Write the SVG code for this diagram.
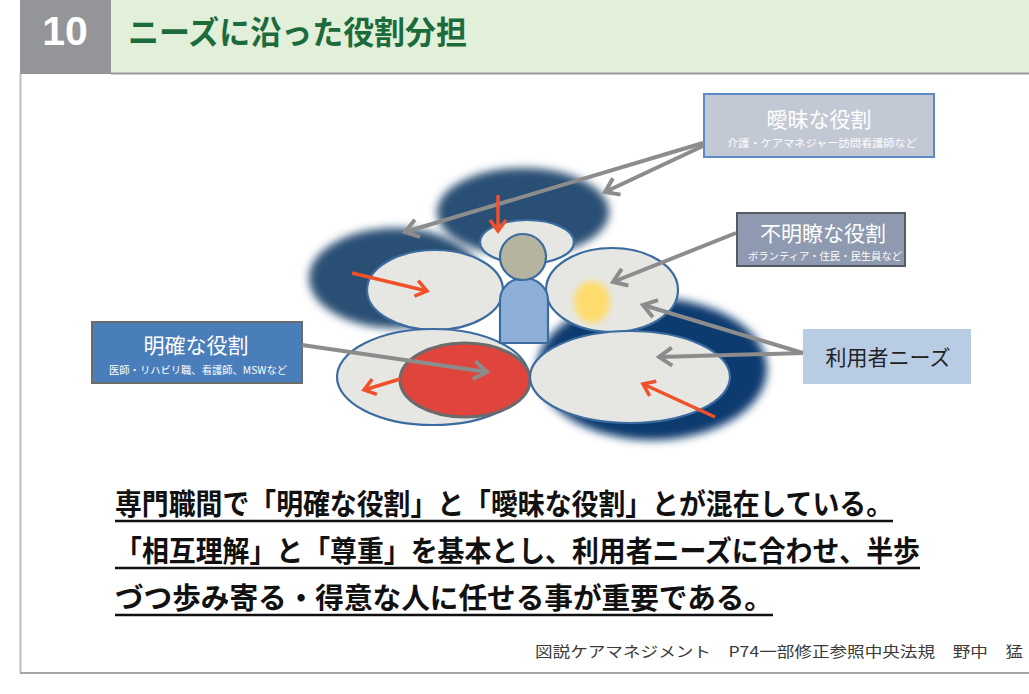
<svg xmlns="http://www.w3.org/2000/svg" width="1029" height="694" viewBox="0 0 1029 694">
  <style>
    .jp { font-family: "Noto Sans CJK JP", "Liberation Sans", sans-serif; }
    .boxmain { font-size: 21px; fill: #ffffff; text-anchor: middle; }
    .boxsub { font-size: 10px; fill: #ffffff; text-anchor: middle; }
    .petal { fill: #e6e7e2; stroke: #3b6b9f; stroke-width: 2.2; }
    .gray { stroke: #8c8c8c; stroke-width: 4; fill: none; marker-end: url(#gHead); }
    .orange { stroke: #f0502a; stroke-width: 3.5; fill: none; marker-end: url(#oHead); }
    .body { font-size: 29px; font-weight: 700; fill: #111111; }
    .uline { stroke: #111111; stroke-width: 2.5; }
  </style>
  <defs>
    <filter id="soft" x="-20%" y="-20%" width="140%" height="140%">
      <feGaussianBlur stdDeviation="4"/>
    </filter>
    <filter id="glow" x="-50%" y="-50%" width="200%" height="200%">
      <feGaussianBlur stdDeviation="3"/>
    </filter>
    <marker id="gHead" viewBox="-16 -12 20 24" markerWidth="20" markerHeight="24" refX="0" refY="0" orient="auto" markerUnits="userSpaceOnUse">
      <path d="M-13,-9 L0,0 L-13,9" fill="none" stroke="#8c8c8c" stroke-width="4"/>
    </marker>
    <marker id="oHead" viewBox="-14 -10 18 20" markerWidth="18" markerHeight="20" refX="0" refY="0" orient="auto" markerUnits="userSpaceOnUse">
      <path d="M-11,-8 L0,0 L-11,8" fill="none" stroke="#f0502a" stroke-width="3.5"/>
    </marker>
  </defs>

  <rect width="1029" height="694" fill="#ffffff"/>

  <!-- page frame -->
  <line x1="20.5" y1="74" x2="20.5" y2="673" stroke="#bdbdbd" stroke-width="2"/>
  <line x1="20" y1="673" x2="1029" y2="673" stroke="#a6a6a6" stroke-width="2"/>

  <!-- header bar -->
  <g id="header">
    <rect x="111" y="0" width="918" height="73" fill="#e2efd9"/>
    <rect x="20" y="0" width="91" height="74" fill="#939598"/>
    <line x1="111" y1="73.5" x2="1029" y2="73.5" stroke="#9a9a9a" stroke-width="2"/>
    <text x="65" y="45" font-family="Liberation Sans, sans-serif" font-size="41" font-weight="700" fill="#ffffff" text-anchor="middle">10</text>
    <text x="128" y="44" class="jp" font-size="32" font-weight="700" fill="#1b6b3c" textLength="339" lengthAdjust="spacingAndGlyphs">ニーズに沿った役割分担</text>
  </g>

  <!-- background role areas -->
  <g id="role-areas">
    <ellipse cx="523" cy="212" rx="86" ry="44" fill="#2b4f75" filter="url(#soft)"/>
    <ellipse cx="395" cy="278" rx="86" ry="50" fill="#2b4f75" filter="url(#soft)"/>
    <ellipse cx="652" cy="369" rx="115" ry="71" fill="#0e3a6f" filter="url(#soft)"/>
  </g>

  <!-- petals -->
  <g id="petals">
    <ellipse class="petal" cx="527" cy="242" rx="47" ry="22"/>
    <ellipse class="petal" cx="435" cy="290" rx="68" ry="40"/>
    <ellipse class="petal" cx="612" cy="290" rx="66" ry="42"/>
    <ellipse cx="592" cy="302" rx="18" ry="21" fill="#fedc6e" filter="url(#glow)"/>
    <ellipse class="petal" cx="433" cy="377" rx="96" ry="48"/>
    <ellipse cx="465" cy="380" rx="65" ry="37" fill="#e0453d" stroke="#6b6b6b" stroke-width="3"/>
    <ellipse class="petal" cx="630" cy="377" rx="100" ry="46"/>
  </g>

  <!-- person -->
  <g id="person">
    <path d="M500,343 L500,300 A24,22 0 0 1 548,300 L548,343 Z" fill="#8eb0d8" stroke="#3b6b9f" stroke-width="2.2"/>
    <circle cx="523" cy="257" r="23" fill="#b5b49e" stroke="#3b6b9f" stroke-width="2.2"/>
  </g>

  <!-- label boxes -->
  <g id="ambiguous-role">
    <rect x="704" y="94" width="230" height="63" fill="#c3c9d4" stroke="#5b8ac6" stroke-width="2"/>
    <text x="819" y="127" class="jp boxmain" font-size="22">曖昧な役割</text>
    <text x="822" y="147" class="jp boxsub" font-size="10.5" textLength="190" lengthAdjust="spacingAndGlyphs">介護・ケアマネジャー訪問看護師など</text>
  </g>
  <g id="unclear-role">
    <rect x="737" y="213" width="168" height="53" fill="#8e9ab0" stroke="#555a63" stroke-width="2"/>
    <text x="823" y="241" class="jp boxmain" font-size="21.5">不明瞭な役割</text>
    <text x="825" y="260" class="jp boxsub" font-size="9.5" textLength="154" lengthAdjust="spacingAndGlyphs">ボランティア・住民・民生員など</text>
  </g>
  <g id="clear-role">
    <rect x="92" y="322" width="210" height="61" fill="#4a7ebb" stroke="#6b6b6b" stroke-width="2"/>
    <text x="196" y="353" class="jp boxmain">明確な役割</text>
    <text x="198" y="374" class="jp boxsub" font-size="10" textLength="178" lengthAdjust="spacingAndGlyphs">医師・リハビリ職、看護師、MSWなど</text>
  </g>
  <g id="user-needs">
    <rect x="803" y="329" width="168" height="55" fill="#b8cce4"/>
    <text x="888" y="365" class="jp" font-size="21" fill="#222222" text-anchor="middle">利用者ニーズ</text>
  </g>

  <!-- connectors -->
  <g id="connectors">
    <line class="gray" x1="703" y1="146" x2="605" y2="192"/>
    <line class="gray" x1="703" y1="143" x2="405" y2="232"/>
    <line class="gray" x1="736" y1="233" x2="613" y2="282"/>
    <line class="gray" x1="803" y1="353" x2="643" y2="305"/>
    <line class="gray" x1="803" y1="353" x2="659" y2="357"/>
    <line class="gray" x1="302" y1="345" x2="487" y2="372"/>
    <line class="orange" x1="498" y1="195" x2="498" y2="231"/>
    <line class="orange" x1="352" y1="273" x2="427" y2="291"/>
    <line class="orange" x1="400" y1="379" x2="364" y2="390"/>
    <line class="orange" x1="715" y1="417" x2="643" y2="384"/>
  </g>

  <!-- message -->
  <g id="message">
    <text x="115" y="515" class="jp body" textLength="778" lengthAdjust="spacingAndGlyphs">専門職間で「明確な役割」と「曖昧な役割」とが混在している。</text>
    <line class="uline" x1="115" y1="521" x2="893" y2="521"/>
    <text x="115" y="562" class="jp body" textLength="805" lengthAdjust="spacingAndGlyphs">「相互理解」と「尊重」を基本とし、利用者ニーズに合わせ、半歩</text>
    <line class="uline" x1="115" y1="568" x2="920" y2="568"/>
    <text x="115" y="609" class="jp body" textLength="658" lengthAdjust="spacingAndGlyphs">づつ歩み寄る・得意な人に任せる事が重要である。</text>
    <line class="uline" x1="115" y1="615" x2="773" y2="615"/>
  </g>

  <!-- source -->
  <text x="535" y="657" class="jp" font-size="15" fill="#3a3a3a" textLength="488" lengthAdjust="spacingAndGlyphs">図説ケアマネジメント　P74一部修正参照中央法規　野中　猛</text>
</svg>
